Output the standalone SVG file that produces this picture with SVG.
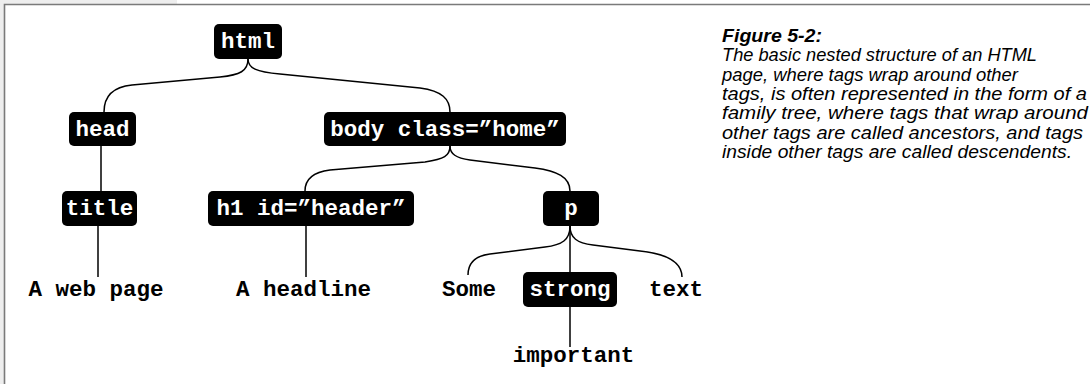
<svg xmlns="http://www.w3.org/2000/svg" width="1090" height="384" viewBox="0 0 1090 384">
<style>
.box{fill:#000;}
.tag{font-family:"Courier New","Nimbus Mono PS","FreeMono","Liberation Mono",monospace;font-weight:bold;font-size:22.5px;fill:#fff;text-anchor:middle;}
.txt{font-family:"Courier New","Nimbus Mono PS","FreeMono","Liberation Mono",monospace;font-weight:bold;font-size:22.5px;fill:#000;text-anchor:middle;}
.conn{fill:none;stroke:#000;stroke-width:1.5;}
.cap{font-family:"Liberation Sans",Arial,sans-serif;font-style:italic;font-size:18px;fill:#000;}
.capb{font-weight:bold;}
</style>
<rect x="0" y="0" width="1090" height="384" fill="#fff"/>
<rect x="0" y="0" width="177" height="4" fill="#eeeeee"/>
<rect x="0" y="0" width="4" height="384" fill="#eeeeee"/>
<path d="M4.5,384 L4.5,4.5 L1090,4.5" fill="none" stroke="#7a7a7a" stroke-width="1.6"/>

<g id="connectors">
<path class="conn" d="M248,59 C248,71 240,75 220,77 L132,85 C112,87 104,97 104,112"/>
<path class="conn" d="M248,59 C248,68 256,72 280,74 L420,88 C442,91 450,99 450,112"/>
<path class="conn" d="M450,146 C450,156 444,159 425,162 L330,170 C314,172 305,178 305,191"/>
<path class="conn" d="M450,146 C450,154 456,158 470,160 L535,168 C557,171 570,177 570,191"/>
<path class="conn" d="M570,226 C570,240 562,245 545,247 L490,254 C474,256 468,264 468,275"/>
<path class="conn" d="M570,226 L570,272"/>
<path class="conn" d="M570,226 C570,238 577,243 593,245 L640,251 C668,254 682,262 682,277"/>
<path class="conn" d="M570,307 L570,347"/>
<path class="conn" d="M101,146 L101,191"/>
<path class="conn" d="M98,226 L98,277"/>
<path class="conn" d="M306,226 L306,277"/>
</g>

<g id="node-html"><rect class="box" x="214" y="24" width="68" height="35" rx="5"/><text class="tag" x="248" y="48">html</text></g>
<g id="node-head"><rect class="box" x="69" y="112" width="67" height="34" rx="5"/><text class="tag" x="102.5" y="136">head</text></g>
<g id="node-body"><rect class="box" x="324" y="112" width="242" height="34" rx="5"/><text class="tag" x="445" y="136">body class=”home”</text></g>
<g id="node-title"><rect class="box" x="62" y="191" width="75" height="35" rx="5"/><text class="tag" x="99.5" y="215">title</text></g>
<g id="node-h1"><rect class="box" x="208" y="191" width="206" height="35" rx="5"/><text class="tag" x="311" y="215">h1 id=”header”</text></g>
<g id="node-p"><rect class="box" x="543" y="191" width="56" height="35" rx="5"/><text class="tag" x="571" y="215">p</text></g>
<g id="node-strong"><rect class="box" x="523" y="272" width="94" height="35" rx="5"/><text class="tag" x="570" y="296">strong</text></g>
<g id="text-webpage"><text class="txt" x="96" y="296">A web page</text></g>
<g id="text-headline"><text class="txt" x="303.5" y="296">A headline</text></g>
<g id="text-some"><text class="txt" x="469" y="296">Some</text></g>
<g id="text-text"><text class="txt" x="676" y="296">text</text></g>
<g id="text-important"><text class="txt" x="573.5" y="362">important</text></g>

<g id="caption">
<text class="cap capb" x="722" y="41.5" textLength="100" lengthAdjust="spacingAndGlyphs">Figure 5-2:</text>
<text class="cap" x="722" y="61" textLength="315" lengthAdjust="spacingAndGlyphs">The basic nested structure of an HTML</text>
<text class="cap" x="722" y="80.5" textLength="296" lengthAdjust="spacingAndGlyphs">page, where tags wrap around other</text>
<text class="cap" x="722" y="100" textLength="365" lengthAdjust="spacingAndGlyphs">tags, is often represented in the form of a</text>
<text class="cap" x="722" y="119" textLength="366" lengthAdjust="spacingAndGlyphs">family tree, where tags that wrap around</text>
<text class="cap" x="722" y="138.5" textLength="361" lengthAdjust="spacingAndGlyphs">other tags are called ancestors, and tags</text>
<text class="cap" x="722" y="157.5" textLength="350" lengthAdjust="spacingAndGlyphs">inside other tags are called descendents.</text>
</g>
</svg>
